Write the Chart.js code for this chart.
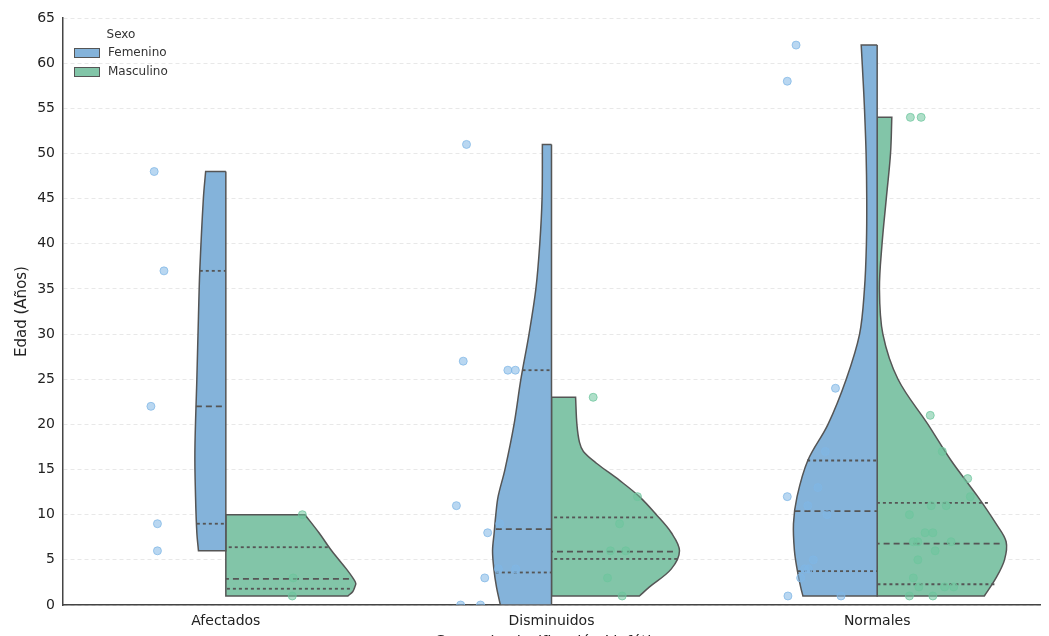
<!DOCTYPE html>
<html>
<head>
<meta charset="utf-8">
<script src="https://cdn.jsdelivr.net/npm/chart.js@4.4.0/dist/chart.umd.min.js"></script>
<style>
  html, body { margin: 0; padding: 0; overflow: hidden; background: #fff; }
  #wrap { width: 1049px; height: 653px; }
</style>
</head>
<body>
<div id="wrap"><canvas id="chart" width="1049" height="653"></canvas></div>
<script>
// categories and legend
var categories = ['Afectados', 'Disminuidos', 'Normales'];
var sexes = ['Femenino', 'Masculino'];
var ageTicks = [0, 5, 10, 15, 20, 25, 30, 35, 40, 45, 50, 55, 60, 65];

// violin outlines: [edad, media anchura]
var afectadosFem = [[48, 0.062], [45, 0.069], [37, 0.080], [32, 0.084], [25, 0.089], [17, 0.095], [12, 0.093], [8, 0.089], [6, 0.084]];
var afectadosMas = [[10, 0.243], [8, 0.286], [6, 0.325], [4, 0.370], [3, 0.390], [2.4, 0.399], [2, 0.396], [1.5, 0.390], [1, 0.375]];
var disminuidosFem = [[51, 0.028], [45, 0.029], [40, 0.036], [35, 0.048], [30, 0.069], [25, 0.094], [20, 0.115], [15, 0.143], [12, 0.164], [10, 0.171], [8, 0.176], [6, 0.181], [4, 0.177], [2, 0.169], [0, 0.157]];
var disminuidosMas = [[23, 0.074], [20, 0.078], [18, 0.086], [17, 0.098], [15.7, 0.138], [13.8, 0.209], [12, 0.270], [10, 0.322], [8, 0.368], [6, 0.393], [4, 0.368], [2, 0.301], [1, 0.270]];
var normalesFem = [[62, 0.049], [58, 0.043], [55, 0.039], [50, 0.034], [45, 0.032], [40, 0.033], [35, 0.039], [30, 0.054], [25, 0.095], [20, 0.151], [16, 0.213], [12, 0.246], [9, 0.257], [6, 0.254], [4, 0.246], [2, 0.235], [1, 0.228]];
var normalesMas = [[54, 0.045], [50, 0.041], [45, 0.028], [40, 0.015], [35, 0.007], [30, 0.0175], [25, 0.064], [20, 0.156], [16, 0.227], [12, 0.309], [9, 0.365], [7, 0.396], [5, 0.391], [3, 0.365], [1, 0.329]];

// cuartiles [Q1, mediana, Q3] y anchura de la linea
var afectadosFemQ = [9, 22, 37], afectadosFemQW = [0.089, 0.092, 0.080];
var afectadosMasQ = [1.8, 2.9, 6.4], afectadosMasQW = [0.381, 0.378, 0.313];
var disminuidosFemQ = [3.6, 8.4, 26], disminuidosFemQW = [0.171, 0.171, 0.089];
var disminuidosMasQ = [5.1, 5.9, 9.7], disminuidosMasQW = [0.386, 0.373, 0.312];
var normalesFemQ = [3.75, 10.4, 16], normalesFemQW = [0.243, 0.254, 0.215];
var normalesMasQ = [2.3, 6.8, 11.3], normalesMasQW = [0.36, 0.376, 0.34];

// observaciones (edad) y su desplazamiento horizontal
var afectadosFemAges = [48, 37, 22, 9, 6];
var afectadosFemJit = [-0.22, -0.19, -0.23, -0.21, -0.21];
var afectadosMasAges = [10, 3, 1];
var afectadosMasJit = [0.235, 0.207, 0.204];
var disminuidosFemAges = [51, 27, 26, 26, 11, 9, 8, 4, 4, 3, 0, 0];
var disminuidosFemJit = [-0.261, -0.271, -0.134, -0.111, -0.292, -0.159, -0.196, -0.163, -0.110, -0.205, -0.279, -0.218];
var disminuidosMasAges = [23, 12, 9, 6, 6, 3, 1];
var disminuidosMasJit = [0.128, 0.264, 0.209, 0.181, 0.228, 0.172, 0.217];
var normalesFemAges = [62, 58, 24, 17, 12, 13, 11, 10, 5, 4, 4, 3, 1, 1];
var normalesFemJit = [-0.249, -0.276, -0.128, -0.159, -0.276, -0.182, -0.213, -0.154, -0.196, -0.223, -0.211, -0.235, -0.274, -0.111];
var normalesMasAges = [54, 54, 21, 17, 14, 12, 11, 11, 10, 8, 8, 7, 7, 7, 6, 5, 3, 2, 2, 2, 1, 1];
var normalesMasJit = [0.102, 0.135, 0.163, 0.2, 0.278, 0.286, 0.166, 0.212, 0.099, 0.147, 0.171, 0.111, 0.125, 0.227, 0.178, 0.125, 0.111, 0.128, 0.207, 0.235, 0.099, 0.171];

var blueFill = '#84b3da';
var greenFill = '#82c5a8';
var edge = '#555555';

var groups = [
    { cat: 0, side: -1, outline: afectadosFem, q: afectadosFemQ, qw: afectadosFemQW, ages: afectadosFemAges, jit: afectadosFemJit },
    { cat: 0, side: 1, outline: afectadosMas, q: afectadosMasQ, qw: afectadosMasQW, ages: afectadosMasAges, jit: afectadosMasJit },
    { cat: 1, side: -1, outline: disminuidosFem, q: disminuidosFemQ, qw: disminuidosFemQW, ages: disminuidosFemAges, jit: disminuidosFemJit },
    { cat: 1, side: 1, outline: disminuidosMas, q: disminuidosMasQ, qw: disminuidosMasQW, ages: disminuidosMasAges, jit: disminuidosMasJit },
    { cat: 2, side: -1, outline: normalesFem, q: normalesFemQ, qw: normalesFemQW, ages: normalesFemAges, jit: normalesFemJit },
    { cat: 2, side: 1, outline: normalesMas, q: normalesMasQ, qw: normalesMasQW, ages: normalesMasAges, jit: normalesMasJit }
];

// closed half-violin; corners repeated so the spline keeps them sharp
function halfShape(g) {
    var top = g.outline[0][0];
    var bot = g.outline[g.outline.length - 1][0];
    var pts = [{ x: g.cat, y: top }, { x: g.cat, y: top }];
    g.outline.forEach(function (p, i) {
        var pt = { x: g.cat + g.side * p[1], y: p[0] };
        pts.push(pt);
        if (i === 0 || i === g.outline.length - 1) pts.push({ x: pt.x, y: pt.y });
    });
    pts.push({ x: g.cat, y: bot }, { x: g.cat, y: bot });
    pts.push({ x: g.cat, y: top }, { x: g.cat, y: top });
    return pts;
}

var datasets = [];
groups.forEach(function (g) {
    var fem = g.side < 0;
    datasets.push({
        data: halfShape(g),
        showLine: true,
        fill: 'shape',
        backgroundColor: fem ? blueFill : greenFill,
        borderColor: edge,
        borderWidth: 1.5,
        tension: 0.35,
        pointRadius: 0,
        order: 3
    });
    g.q.forEach(function (v, i) {
        datasets.push({
            data: [{ x: g.cat + g.side * g.qw[i], y: v }, { x: g.cat, y: v }],
            showLine: true,
            fill: false,
            borderColor: edge,
            borderWidth: 1.8,
            borderDash: i === 1 ? [6, 4] : [3, 3],
            pointRadius: 0,
            order: 2
        });
    });
    datasets.push({
        data: g.ages.map(function (a, i) { return { x: g.cat + g.jit[i], y: a }; }),
        showLine: false,
        pointRadius: 4,
        pointBackgroundColor: fem ? 'rgba(128,183,230,0.55)' : 'rgba(110,197,157,0.55)',
        pointBorderColor: fem ? 'rgba(128,183,230,0.75)' : 'rgba(110,197,157,0.75)',
        pointBorderWidth: 1,
        order: 1
    });
});

var legendPlugin = {
    id: 'sexLegend',
    afterDraw: function (chart) {
        var ctx = chart.ctx;
        var a = chart.chartArea;
        ctx.save();
        ctx.font = '12px "DejaVu Sans"';
        ctx.fillStyle = '#333';
        ctx.textBaseline = 'middle';
        ctx.textAlign = 'center';
        ctx.fillText('Sexo', a.left + 58, 35);
        ctx.textAlign = 'left';
        [blueFill, greenFill].forEach(function (c, i) {
            var y = 53 + i * 19;
            ctx.fillStyle = c;
            ctx.fillRect(a.left + 11, y - 4, 25, 8);
            ctx.strokeStyle = edge;
            ctx.lineWidth = 1;
            ctx.strokeRect(a.left + 11.5, y - 4.5, 25, 9);
            ctx.fillStyle = '#333';
            ctx.fillText(sexes[i], a.left + 45, y);
        });
        ctx.restore();
    }
};

new Chart(document.getElementById('chart'), {
    type: 'scatter',
    data: { datasets: datasets },
    plugins: [legendPlugin],
    options: {
        responsive: false,
        animation: false,
        layout: { padding: { left: 12, top: 18, right: 9, bottom: 0 } },
        plugins: { legend: { display: false }, tooltip: { enabled: false } },
        scales: {
            x: {
                type: 'linear',
                min: -0.5,
                max: 2.5,
                afterFit: function (s) { s.height = 48; },
                afterBuildTicks: function (s) {
                    s.ticks = categories.map(function (c, i) { return { value: i }; });
                },
                grid: { display: false, drawTicks: false },
                border: { display: true, color: '#444', width: 1.5 },
                ticks: {
                    padding: 8,
                    color: '#222',
                    font: { family: 'DejaVu Sans', size: 14 },
                    callback: function (v) { return categories[v]; }
                },
                title: {
                    display: true,
                    text: 'Grupo de clasificación Linfática',
                    color: '#222',
                    font: { family: 'DejaVu Sans', size: 15 },
                    padding: { top: 0, bottom: 1 }
                }
            },
            y: {
                min: 0,
                max: 65,
                afterFit: function (s) { s.width = 51; },
                afterBuildTicks: function (s) {
                    s.ticks = ageTicks.map(function (v) { return { value: v }; });
                },
                grid: { color: 'rgba(0,0,0,0.09)', lineWidth: 1, drawTicks: false },
                border: { display: true, color: '#444', width: 1.5, dash: [4, 3] },
                ticks: {
                    padding: 8,
                    color: '#222',
                    font: { family: 'DejaVu Sans', size: 14 }
                },
                title: {
                    display: true,
                    text: 'Edad (Años)',
                    color: '#222',
                    font: { family: 'DejaVu Sans', size: 15 },
                    padding: { top: 1, bottom: 0 }
                }
            }
        }
    }
});
</script>
</body>
</html>
